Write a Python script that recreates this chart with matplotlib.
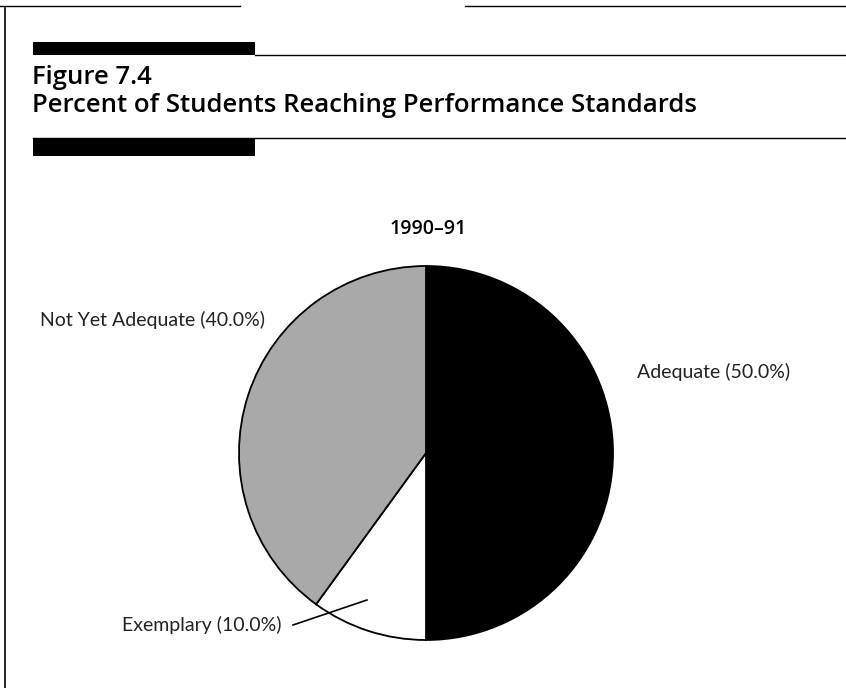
import matplotlib.pyplot as plt
from matplotlib.patches import Rectangle

# data
categories = ["Adequate", "Exemplary", "Not Yet Adequate"]
shares = [50.0, 10.0, 40.0]
colors = ["#000000", "#ffffff", "#a9a9a9"]
year_label = "1990\u201391"

W, H = 846, 688
fig = plt.figure(figsize=(W / 100, H / 100), dpi=100)
ax = fig.add_axes([0, 0, 1, 1])

def py(y):  # pixel row -> data y
    return H - y

# frame
ax.plot([5, 5], [py(8), py(688)], color="black", lw=1.2)
ax.plot([0, 240], [py(6), py(6)], color="black", lw=1.0)
ax.plot([465, 846], [py(6), py(6)], color="black", lw=1.0)

# header bars and rules
ax.add_patch(Rectangle((33, py(55)), 222, 13, color="black", lw=0))
ax.plot([255, 846], [py(55), py(55)], color="black", lw=1.0)
ax.add_patch(Rectangle((33, py(156)), 222, 17, color="black", lw=0))
ax.plot([33, 846], [py(138), py(138)], color="black", lw=1.0)

hfont = dict(family="Open Sans", weight="semibold", color="black")
ax.text(32, py(78), "Figure 7.4", fontsize=18.5, va="center", ha="left", **hfont)
ax.text(32, py(106), "Percent of Students Reaching Performance Standards",
        fontsize=18.5, va="center", ha="left", **hfont)

# pie
cx, cy, r = 426, py(453), 187
wedges, _ = ax.pie(shares, colors=colors, startangle=90, counterclock=False,
                   center=(cx, cy), radius=r, frame=True,
                   wedgeprops=dict(edgecolor="black", linewidth=1.3))
ax.set_xlim(0, W)
ax.set_ylim(0, H)
ax.set_aspect("equal")
ax.axis("off")

ax.text(cx + 2, py(229), year_label, fontsize=14, ha="center", va="center", **hfont)

lfont = dict(family="Lato", color="#222222", fontsize=14)
ax.text(40, py(320), f"{categories[2]} ({shares[2]:.1f}%)", ha="left", va="center", **lfont)
ax.text(637, py(372), f"{categories[0]} ({shares[0]:.1f}%)", ha="left", va="center", **lfont)
ax.text(122, py(625), f"{categories[1]} ({shares[1]:.1f}%)", ha="left", va="center", **lfont)
ax.plot([293, 367], [py(625), py(600)], color="black", lw=1.2)

fig.savefig("out.png", dpi=100, facecolor="white")
